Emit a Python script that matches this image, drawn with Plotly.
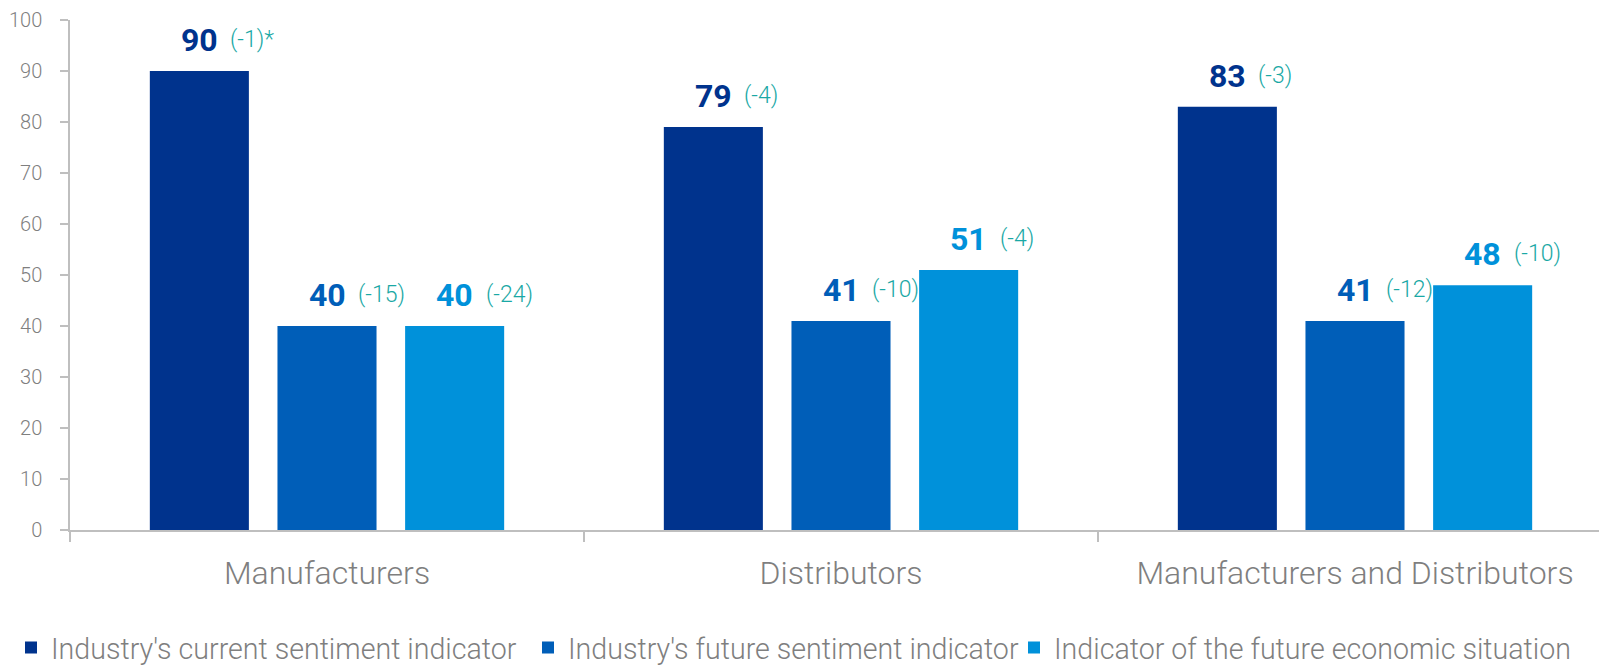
import plotly.graph_objects as go

categories = ["Manufacturers", "Distributors", "Manufacturers and Distributors"]
series_names = [
    "Industry's current sentiment indicator",
    "Industry's future sentiment indicator",
    "Indicator of the future economic situation",
]
current_vals = [90, 79, 83]
future_vals = [40, 41, 41]
economic_vals = [40, 51, 48]
current_changes = ["(-1)*", "(-4)", "(-3)"]
future_changes = ["(-15)", "(-10)", "(-12)"]
economic_changes = ["(-24)", "(-4)", "(-10)"]
y_ticks = [0, 10, 20, 30, 40, 50, 60, 70, 80, 90, 100]

colors = ["#00338D", "#005EB8", "#0091DA"]
teal = "#1AA8A5"
gray = "#7F7F7F"
axis_col = "#BFBFBF"
FONT = "Roboto"

W, H = 1599, 666
ML, MR, MT, MB = 70, 0, 20, 136
CAT_PX = 514          # width of one category band in pixels (chart is cropped on the right)
BARGAP, GROUPGAP = 0.255, 0.224

values = [current_vals, future_vals, economic_vals]
changes = [current_changes, future_changes, economic_changes]
legend_ids = ["legend", "legend2", "legend3"]
legend_left_px = [11, 528, 1014]

fig = go.Figure()
for name, vals, col, lg in zip(series_names, values, colors, legend_ids):
    fig.add_trace(go.Bar(x=categories, y=vals, name=name, legend=lg,
                         marker=dict(color=col, line=dict(width=0))))

plot_w = W - ML - MR
x_end = -0.5 + plot_w / CAT_PX
slot = CAT_PX * (1 - BARGAP) / len(series_names)

annotations = []
for i, (vals, chs, col) in enumerate(zip(values, changes, colors)):
    off = (i - 1) * slot
    for cat, v, ch in zip(categories, vals, chs):
        annotations.append(dict(
            x=cat, y=v, xref="x", yref="y", text=f"<b>{v}</b>", showarrow=False,
            xanchor="center", yanchor="bottom", xshift=off, yshift=10,
            font=dict(family=FONT, size=32, color=col)))
        annotations.append(dict(
            x=cat, y=v, xref="x", yref="y", text=ch, showarrow=False,
            xanchor="left", yanchor="bottom", xshift=off + 29, yshift=16,
            font=dict(family=FONT, size=23, color=teal, weight=300)))

legend_style = dict(orientation="h", xref="container", yref="container",
                    xanchor="left", y=0.027, yanchor="middle",
                    font=dict(family=FONT, size=28.6, color=gray, weight=300),
                    itemwidth=30, bgcolor="rgba(0,0,0,0)", borderwidth=0)
legends = {lg: dict(legend_style, x=px / W) for lg, px in zip(legend_ids, legend_left_px)}

fig.update_layout(
    width=W, height=H,
    margin=dict(l=ML, r=MR, t=MT, b=MB, autoexpand=False),
    paper_bgcolor="white", plot_bgcolor="white",
    barmode="group", bargap=BARGAP, bargroupgap=GROUPGAP,
    font=dict(family=FONT, color=gray),
    showlegend=True,
    annotations=annotations,
    **legends,
)
fig.update_yaxes(range=[0, 100], tickvals=y_ticks, showgrid=False, zeroline=False,
                 showline=True, linecolor=axis_col, linewidth=1.5,
                 ticks="outside", ticklen=8, tickcolor=axis_col, tickwidth=1.5,
                 ticklabelstandoff=14,
                 tickfont=dict(family=FONT, size=20, color=gray, weight=300))
fig.update_xaxes(range=[-0.5, x_end], showline=True, linecolor=axis_col, linewidth=1.5,
                 ticks="outside", tickson="boundaries", ticklen=10, tickcolor=axis_col, tickwidth=1.5,
                 ticklabelstandoff=14,
                 tickfont=dict(family=FONT, size=32, color=gray, weight=300))

post = "document.documentElement.style.margin='0';document.body.style.margin='0';"
fig.write_html("out.html", post_script=post, config={"displayModeBar": False})
